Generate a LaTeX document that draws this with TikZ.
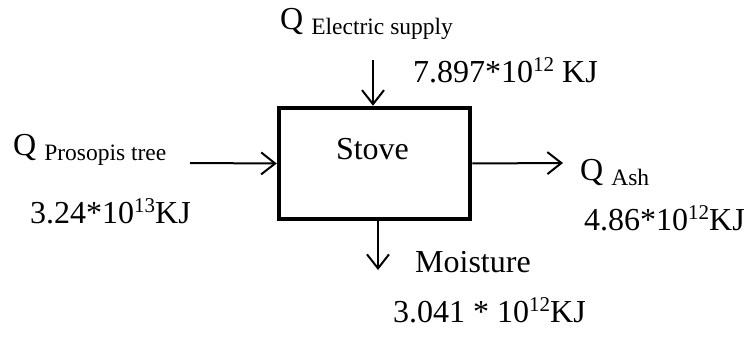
\documentclass[tikz,border=0pt]{standalone}
\usepackage{fontspec}
\setmainfont{Liberation Serif}
\usetikzlibrary{arrows.meta}
\newcommand{\expo}[1]{\raisebox{11pt}{\fontsize{21}{21}\selectfont #1}}
\newcommand{\qsub}[1]{\raisebox{-5pt}{\fontsize{23.5}{24}\selectfont #1}}
\begin{document}
\begin{tikzpicture}[x=1pt, y=-1pt, every node/.style={font=\fontsize{32}{38}\selectfont, inner sep=0pt},
  txt/.style={anchor=base west},
  flow/.style={line width=2pt, -{Straight Barb[length=14pt, width=22pt, line width=2pt]}}]
\useasboundingbox (0,0) rectangle (745,337);
% stove box
\node[draw, line width=4.5pt, minimum width=191pt, minimum height=111pt] (stove) at (374.5,163.5) {};
\node[anchor=base] (stovelbl) at (372.5,159) {Stove};
% free ends of the flows
\coordinate (treein) at (190,163);
\coordinate (elecin) at (373,60);
\coordinate (ashout) at (563,163);
\coordinate (moistout) at (378,270);
\draw[flow] (treein) -- (stove.west);
\draw[flow] (elecin) -- (elecin |- stove.north);
\draw[flow] (stove.east) -- (ashout);
\draw[flow] (moistout |- stove.south) -- (moistout);
% labels
\node[txt] (qelec) at (280,30) {Q \qsub{Electric supply}};
\node[txt] (eelec) at (413,83) {7.897*10\expo{12} KJ};
\node[txt] (qtree) at (13,155) {Q \qsub{Prosopis tree}};
\node[txt] (etree) at (30,223) {3.24*10\expo{13}KJ};
\node[txt] (qash) at (580,180) {Q \qsub{Ash}};
\node[txt] (eash) at (584,230) {4.86*10\expo{12}KJ};
\node[txt] (moist) at (415,272) {Moisture};
\node[txt] (emoist) at (393,322) {3.041 * 10\expo{12}KJ};
\end{tikzpicture}
\end{document}
